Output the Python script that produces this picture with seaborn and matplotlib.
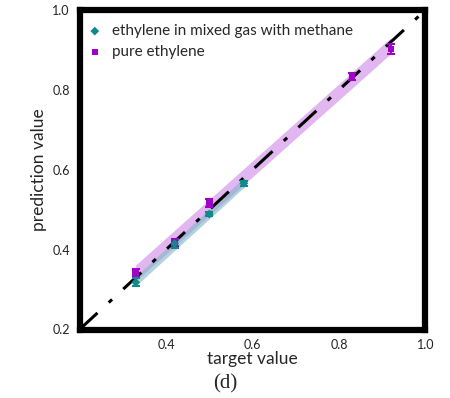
import numpy as np
import pandas as pd
import matplotlib
matplotlib.use("Agg")
import matplotlib.pyplot as plt
import seaborn as sns

# values
mix_target = [0.33, 0.42, 0.50, 0.58]
mix_pred = [0.318, 0.415, 0.489, 0.566]
mix_err = [0.010, 0.010, 0.006, 0.006]

pure_target = [0.33, 0.42, 0.50, 0.83, 0.92]
pure_pred = [0.342, 0.418, 0.516, 0.833, 0.902]
pure_err = [0.010, 0.008, 0.010, 0.009, 0.013]

mix_band = 0.012
pure_band = 0.020

teal = "#11888a"
purple = "#a100c9"

sns.set_style("white")
plt.rcParams["font.family"] = ["Lato", "DejaVu Sans"]

fig = plt.figure(figsize=(4.5, 3.98), dpi=100)
ax = fig.add_axes([79.5 / 450, 1 - 329.5 / 398, 346 / 450, 319.5 / 398])

# bands from linear fits
for xs, ys, w, col, a in [(pure_target, pure_pred, pure_band, "#cf86e6", 0.6),
                          (mix_target, mix_pred, mix_band, "#7fb5c8", 0.6)]:
    k, b = np.polyfit(xs, ys, 1)
    xx = np.array([min(xs), max(xs)])
    yy = k * xx + b
    ax.fill_between(xx, yy - w, yy + w, color=col, alpha=a, lw=0, zorder=1)

ax.plot([0.2, 1.0], [0.2, 1.0], color="black", lw=2.2, zorder=2,
        dashes=(8, 5, 1.5, 5))

df_mix = pd.DataFrame({"target": mix_target, "pred": mix_pred})
df_pure = pd.DataFrame({"target": pure_target, "pred": pure_pred})

ax.errorbar(pure_target, pure_pred, yerr=pure_err, fmt="none", ecolor=purple,
            elinewidth=1.5, capsize=3, capthick=1.5, zorder=3)
ax.errorbar(mix_target, mix_pred, yerr=mix_err, fmt="none", ecolor=teal,
            elinewidth=1.5, capsize=3, capthick=1.5, zorder=3)
sns.scatterplot(data=df_pure, x="target", y="pred", marker="s", color=purple,
                s=22, edgecolor="none", ax=ax, zorder=4, label="pure ethylene")
sns.scatterplot(data=df_mix, x="target", y="pred", marker="D", color=teal,
                s=20, edgecolor="none", ax=ax, zorder=5,
                label="ethylene in mixed gas with methane")

h, l = ax.get_legend_handles_labels()
ax.legend(h[::-1], l[::-1], loc="upper left", frameon=False, fontsize=11,
          handletextpad=0.5, handlelength=1.2, borderaxespad=0.0,
          labelspacing=0.45, bbox_to_anchor=(0.0, 0.975))

ax.set_xlim(0.2, 1.0)
ax.set_ylim(0.2, 1.0)
ax.set_xticks([0.4, 0.6, 0.8, 1.0])
ax.set_yticks([0.2, 0.4, 0.6, 0.8, 1.0])
ax.set_xticklabels(["0.4", "0.6", "0.8", "1.0"])
ax.set_yticklabels(["0.2", "0.4", "0.6", "0.8", "1.0"])
ax.tick_params(direction="in", length=5, width=3.5, labelsize=9,
               colors="black", labelcolor="#222222", pad=7)
for s in ax.spines.values():
    s.set_visible(True)
    s.set_linewidth(4.5)
    s.set_color("black")

ax.set_xlabel("target value", fontsize=12.5, labelpad=0)
ax.set_ylabel("prediction value", fontsize=12.5, labelpad=4)
fig.text(0.5, 0.025, "(d)", ha="center", fontsize=15,
         family="Liberation Serif")

fig.savefig("out.png", dpi=100)
